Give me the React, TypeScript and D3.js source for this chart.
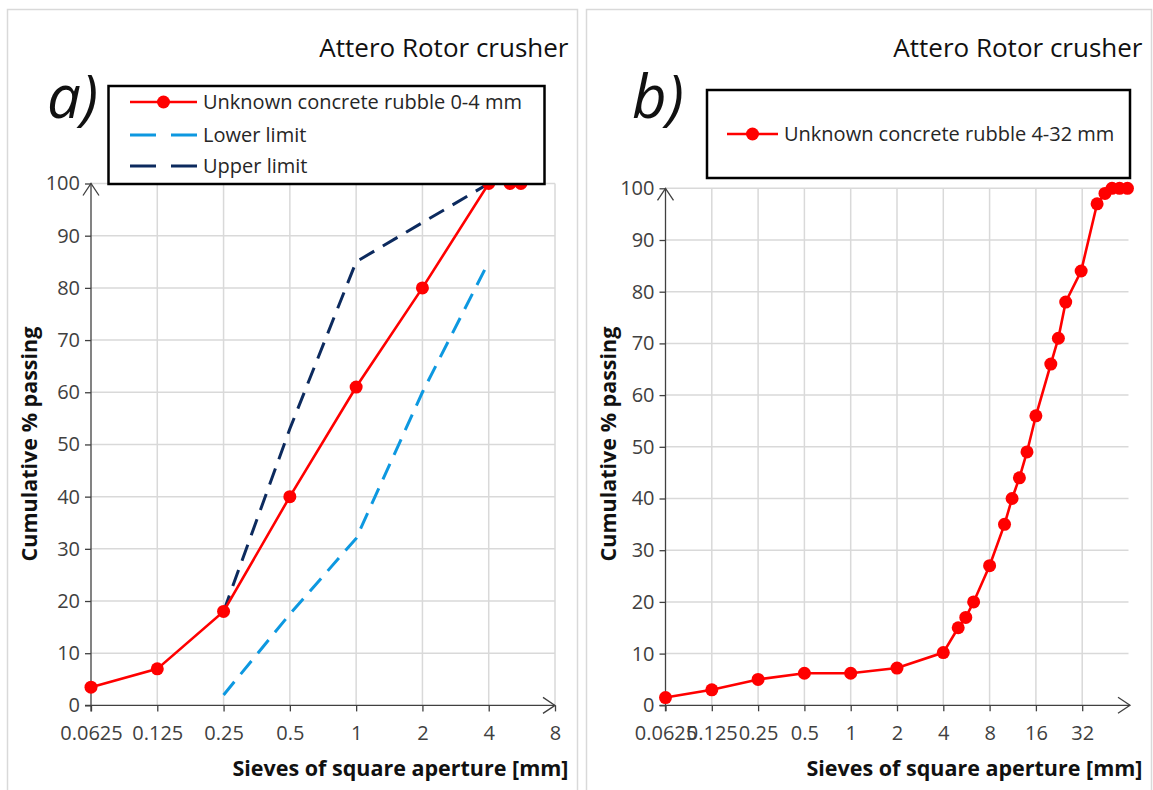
import { useEffect, useRef } from "react";
import { select, scaleLinear, scaleLog, axisLeft, axisBottom, line } from "d3";

////
// data
const TITLE = "Attero Rotor crusher";

// panel a) 0-4 mm
const SIEVE_A = [0.0625, 0.125, 0.25, 0.5, 1, 2, 4, 5, 5.6];
const PASS_A = [3.5, 7, 18, 40, 61, 80, 100, 100, 100];
const LOWER_SIEVE = [0.25, 0.5, 1, 2, 4];
const LOWER_PASS = [2, 17.5, 32, 60, 85];
const UPPER_SIEVE = [0.25, 0.5, 1, 2, 4];
const UPPER_PASS = [18, 53, 85, 92.5, 100];
const TICKS_A = [0.0625, 0.125, 0.25, 0.5, 1, 2, 4, 8];

// panel b) 4-32 mm
const SIEVE_B = [
  0.0625, 0.125, 0.25, 0.5, 1, 2, 4, 5, 5.6, 6.3, 8, 10, 11.2, 12.5, 14, 16,
  20, 22.4, 25, 31.5, 40, 45, 50, 56, 63,
];
const PASS_B = [
  1.5, 3, 5, 6.2, 6.2, 7.2, 10.2, 15, 17, 20, 27, 35, 40, 44, 49, 56, 66, 71,
  78, 84, 97, 99, 100, 100, 100,
];
const TICKS_B = [0.0625, 0.125, 0.25, 0.5, 1, 2, 4, 8, 16, 32];

const TICKS_Y = [0, 10, 20, 30, 40, 50, 60, 70, 80, 90, 100];

////
const FONT = "'Open Sans', 'Noto Sans', sans-serif";
const RED = "#ff0000";
const LIGHTBLUE = "#0d98e0";
const NAVY = "#0c2a5e";
const GRID = "#d9d9d9";
const AXIS = "#404040";
const TEXT = "#262626";

const zip = (xs: number[], ys: number[]) => xs.map((x, i) => [x, ys[i]] as [number, number]);

const drawPanel = (svg: any, o: any) => {
  const x = scaleLog().base(2).domain(o.xDomain).range([o.left, o.right]);
  const y = scaleLinear().domain([0, 100]).range([o.bottom, o.top]);
  const g = svg.append("g");

  // frame
  g.append("rect")
    .attr("x", o.frameX)
    .attr("y", 9.5)
    .attr("width", o.frameW)
    .attr("height", 800)
    .attr("fill", "none")
    .attr("stroke", GRID)
    .attr("stroke-width", 1.5);

  // grid
  g.selectAll(".gy")
    .data(TICKS_Y.slice(1))
    .join("line")
    .attr("x1", o.left)
    .attr("x2", o.right)
    .attr("y1", (d: number) => y(d))
    .attr("y2", (d: number) => y(d))
    .attr("stroke", GRID)
    .attr("stroke-width", 1.5);
  g.selectAll(".gx")
    .data(o.ticks.slice(1))
    .join("line")
    .attr("x1", (d: number) => x(d))
    .attr("x2", (d: number) => x(d))
    .attr("y1", y(0))
    .attr("y2", y(100))
    .attr("stroke", GRID)
    .attr("stroke-width", 1.5);

  // axes (ticks + labels from d3, domain drawn by hand)
  const ya = g
    .append("g")
    .attr("transform", `translate(${o.left},0)`)
    .call(axisLeft(y).tickValues(TICKS_Y).tickSize(6).tickSizeOuter(0).tickPadding(5));
  const xa = g
    .append("g")
    .attr("transform", `translate(0,${o.bottom})`)
    .call(
      axisBottom(x)
        .tickValues(o.ticks)
        .tickFormat((d: any) => String(d))
        .tickSize(6)
        .tickSizeOuter(0)
        .tickPadding(14)
    );
  [ya, xa].forEach((a) => {
    a.select(".domain").remove();
    a.selectAll("line").attr("stroke", AXIS).attr("stroke-width", 1.3);
    a.selectAll("text")
      .attr("fill", AXIS)
      .style("font-family", FONT)
      .style("font-size", "20px");
  });
  xa.selectAll("text").attr("dy", "0.75em");

  // axis lines with open arrow heads
  const ax = g.append("g").attr("stroke", AXIS).attr("stroke-width", 1.3).attr("fill", "none");
  ax.append("line").attr("x1", o.left).attr("x2", o.left).attr("y1", o.bottom + 6).attr("y2", o.top);
  ax.append("line").attr("x1", o.left - 6).attr("x2", o.xEnd).attr("y1", o.bottom).attr("y2", o.bottom);
  ax.append("path").attr("d", `M${o.left - 8},${o.top + 12}L${o.left},${o.top}L${o.left + 8},${o.top + 12}`);
  ax.append("path").attr("d", `M${o.xEnd - 12},${o.bottom - 8}L${o.xEnd},${o.bottom}L${o.xEnd - 12},${o.bottom + 8}`);

  // series
  const path = line<[number, number]>()
    .x((d) => x(d[0]))
    .y((d) => y(d[1]));
  (o.dashed || []).forEach((s: any) => {
    g.append("path")
      .attr("d", path(zip(s.xs, s.ys)))
      .attr("fill", "none")
      .attr("stroke", s.color)
      .attr("stroke-width", 3)
      .attr("stroke-dasharray", "17 10");
  });
  const pts = zip(o.xs, o.ys);
  g.append("path")
    .attr("d", path(pts))
    .attr("fill", "none")
    .attr("stroke", RED)
    .attr("stroke-width", 2.6);
  g.selectAll(".pt")
    .data(pts)
    .join("circle")
    .attr("cx", (d: any) => x(d[0]))
    .attr("cy", (d: any) => y(d[1]))
    .attr("r", 6.5)
    .attr("fill", RED);

  // titles
  const txt = (s: string, px: number, py: number, size: number, extra: any = {}) =>
    g.append("text")
      .attr("x", px)
      .attr("y", py)
      .attr("fill", extra.fill || TEXT)
      .attr("text-anchor", extra.anchor || "start")
      .attr("font-weight", extra.weight || "normal")
      .attr("font-style", extra.italic ? "italic" : "normal")
      .attr("transform", extra.rotate ? `rotate(-90,${px},${py})` : null)
      .style("font-family", FONT)
      .style("font-size", `${size}px`)
      .text(s);

  txt(TITLE, o.frameX + o.frameW - 9, 57, 26, { anchor: "end", fill: "#111" });
  txt(o.letter, o.letterX, 118, 60, { italic: true, fill: "#111" });
  txt("Sieves of square aperture [mm]", o.frameX + o.frameW - 9, 776, 21.5, { anchor: "end", weight: "bold", fill: "#111" });
  txt("Cumulative % passing", o.frameX + 29, 444, 21.5, { anchor: "middle", weight: "bold", fill: "#111", rotate: true });

  // legend
  const L = o.legend;
  g.append("rect")
    .attr("x", L.x)
    .attr("y", L.y)
    .attr("width", L.w)
    .attr("height", L.h)
    .attr("fill", "#fff")
    .attr("stroke", "#000")
    .attr("stroke-width", 2.5);
  L.rows.forEach((r: any) => {
    g.append("line")
      .attr("x1", L.lx1)
      .attr("x2", L.lx2)
      .attr("y1", r.y)
      .attr("y2", r.y)
      .attr("stroke", r.color)
      .attr("stroke-width", r.dashed ? 3 : 2.6)
      .attr("stroke-dasharray", r.dashed ? "26 15" : null);
    if (!r.dashed)
      g.append("circle")
        .attr("cx", (L.lx1 + L.lx2) / 2)
        .attr("cy", r.y)
        .attr("r", 6.5)
        .attr("fill", r.color);
    txt(r.label, L.lx2 + 6, r.y + 7, 20);
  });
};

export default function App() {
  const ref = useRef<SVGSVGElement>(null);
  useEffect(() => {
    document.body.style.margin = "0";
    const svg = select(ref.current);
    svg.selectAll("*").remove();
    svg.append("rect").attr("width", 1153).attr("height", 790).attr("fill", "#fff");

    drawPanel(svg, {
      frameX: 7.5,
      frameW: 570,
      left: 91,
      right: 555,
      xEnd: 555,
      top: 183.5,
      bottom: 705.4,
      xDomain: [0.0625, 8],
      ticks: TICKS_A,
      xs: SIEVE_A,
      ys: PASS_A,
      dashed: [
        { xs: LOWER_SIEVE, ys: LOWER_PASS, color: LIGHTBLUE },
        { xs: UPPER_SIEVE, ys: UPPER_PASS, color: NAVY },
      ],
      letter: "a)",
      letterX: 47,
      legend: {
        x: 108.5,
        y: 86,
        w: 436,
        h: 98,
        lx1: 130,
        lx2: 197,
        rows: [
          { y: 102, color: RED, label: "Unknown concrete rubble 0-4 mm" },
          { y: 135, color: LIGHTBLUE, dashed: true, label: "Lower limit" },
          { y: 166, color: NAVY, dashed: true, label: "Upper limit" },
        ],
      },
    });

    drawPanel(svg, {
      frameX: 586.5,
      frameW: 565,
      left: 665.5,
      right: 1128.5,
      xEnd: 1130,
      top: 188.3,
      bottom: 705.3,
      xDomain: [0.0625, 64],
      ticks: TICKS_B,
      xs: SIEVE_B,
      ys: PASS_B,
      dashed: [],
      letter: "b)",
      letterX: 632,
      legend: {
        x: 707,
        y: 90,
        w: 423,
        h: 88,
        lx1: 727,
        lx2: 778,
        rows: [{ y: 134, color: RED, label: "Unknown concrete rubble 4-32 mm" }],
      },
    });
  }, []);
  return <svg ref={ref} width={1153} height={790} style={{ display: "block" }} />;
}
